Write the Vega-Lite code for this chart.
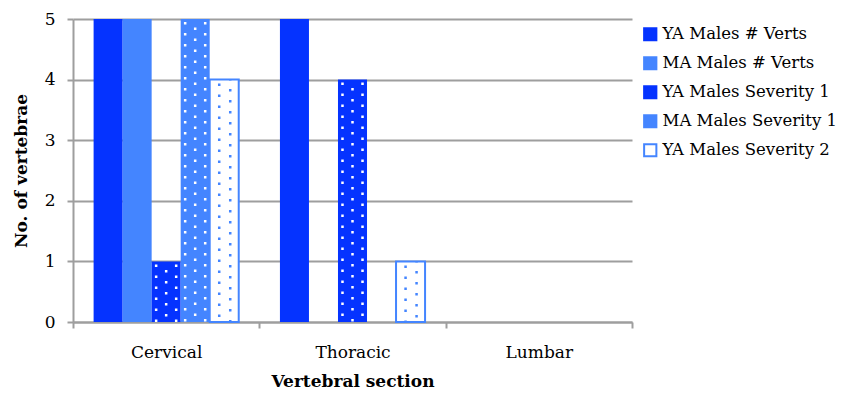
{
  "$schema": "https://vega.github.io/schema/vega-lite/v6.json",
  "width": 559,
  "height": 303,
  "autosize": "none",
  "padding": {"left": 73, "top": 19, "right": 212, "bottom": 72},
  "background": "white",
  "config": {
    "view": {"stroke": null},
    "font": "DejaVu Serif",
    "axis": {"labelFont": "DejaVu Serif", "titleFont": "DejaVu Serif", "labelColor": "#000", "titleColor": "#000"},
    "legend": {"labelFont": "DejaVu Serif"}
  },
  "data": {
    "values": [
      {"section": "Cervical", "series": "YA Males # Verts", "value": 5},
      {"section": "Cervical", "series": "MA Males # Verts", "value": 5},
      {"section": "Cervical", "series": "YA Males Severity 1", "value": 1},
      {"section": "Cervical", "series": "MA Males Severity 1", "value": 5},
      {"section": "Cervical", "series": "YA Males Severity 2", "value": 4},
      {"section": "Thoracic", "series": "YA Males # Verts", "value": 5},
      {"section": "Thoracic", "series": "MA Males # Verts", "value": 0},
      {"section": "Thoracic", "series": "YA Males Severity 1", "value": 4},
      {"section": "Thoracic", "series": "MA Males Severity 1", "value": 0},
      {"section": "Thoracic", "series": "YA Males Severity 2", "value": 1},
      {"section": "Lumbar", "series": "YA Males # Verts", "value": 0},
      {"section": "Lumbar", "series": "MA Males # Verts", "value": 0},
      {"section": "Lumbar", "series": "YA Males Severity 1", "value": 0},
      {"section": "Lumbar", "series": "MA Males Severity 1", "value": 0},
      {"section": "Lumbar", "series": "YA Males Severity 2", "value": 0}
    ]
  },
  "resolve": {"scale": {"xOffset": "independent"}},
  "encoding": {
    "x": {
      "field": "section", "type": "nominal",
      "scale": {"domain": ["Cervical", "Thoracic", "Lumbar"], "paddingInner": 0, "paddingOuter": 0},
      "axis": {
        "title": "Vertebral section", "titleFontSize": 17, "titleFontWeight": "bold", "titlePadding": 13,
        "labelAngle": 0, "labelFontSize": 17, "labelPadding": 16,
        "tickBand": "extent", "tickSize": 6, "tickColor": "#9E9E9E", "tickWidth": 2,
        "domainColor": "#9E9E9E", "domainWidth": 2
      }
    },
    "y": {
      "field": "value", "type": "quantitative",
      "scale": {"domain": [0, 5], "nice": false},
      "axis": {
        "title": "No. of vertebrae", "titleFontSize": 17, "titleFontWeight": "bold", "titlePadding": 14,
        "values": [0, 1, 2, 3, 4, 5], "labelFontSize": 17, "labelPadding": 12, "labelOverlap": false,
        "tickSize": 6, "tickColor": "#9E9E9E", "tickWidth": 2,
        "grid": true, "gridColor": "#9E9E9E", "gridWidth": 2,
        "domainColor": "#9E9E9E", "domainWidth": 2
      }
    }
  },
  "layer": [
    {
      "transform": [{"filter": "datum.value > 0"}],
      "mark": {"type": "bar"},
      "encoding": {
        "xOffset": {
          "field": "series", "type": "nominal",
          "scale": {"domain": ["YA Males # Verts", "MA Males # Verts", "YA Males Severity 1", "MA Males Severity 1", "YA Males Severity 2"], "paddingInner": 0, "paddingOuter": 0.71}
        },
        "fill": {
          "field": "series", "type": "nominal",
          "scale": {
            "domain": ["YA Males # Verts", "MA Males # Verts", "YA Males Severity 1", "MA Males Severity 1", "YA Males Severity 2"],
            "range": ["#0533FF", "#4485FF", "#0533FF", "#4485FF", "#FFFFFF"]
          },
          "legend": {
            "title": null, "orient": "none", "legendX": 569, "legendY": 7,
            "symbolType": "square", "symbolSize": 150, "symbolStrokeWidth": 2, "symbolOpacity": 1,
            "labelFontSize": 16.5, "labelColor": "#000", "labelLimit": 300, "labelOffset": 4,
            "rowPadding": 8
          }
        },
        "stroke": {
          "field": "series", "type": "nominal",
          "scale": {
            "domain": ["YA Males # Verts", "MA Males # Verts", "YA Males Severity 1", "MA Males Severity 1", "YA Males Severity 2"],
            "range": ["#0533FF", "#4485FF", "#0533FF", "#4485FF", "#4485FF"]
          },
          "legend": {
            "title": null, "orient": "none", "legendX": 569, "legendY": 7,
            "symbolType": "square", "symbolSize": 150, "symbolStrokeWidth": 2,
            "labelFontSize": 16.5, "labelColor": "#000", "labelLimit": 300, "labelOffset": 4,
            "rowPadding": 8
          }
        },
        "strokeWidth": {
          "condition": {"test": "datum.series === 'YA Males Severity 2'", "value": 2},
          "value": 0
        }
      }
    },
    {
      "transform": [{"filter": "datum.value > 0 && (datum.series === 'YA Males Severity 1' || datum.series === 'MA Males Severity 1')"}],
      "mark": {"type": "rule", "color": "white", "strokeWidth": 2.5, "strokeDash": [2.5, 8.5], "strokeDashOffset": -3},
      "encoding": {
        "xOffset": {"field": "series", "type": "nominal", "scale": {"domain": ["YA Males # Verts", "MA Males # Verts", "YA Males Severity 1", "MA Males Severity 1", "YA Males Severity 2"], "paddingInner": 0, "paddingOuter": 0.71, "align": 0.257}},
        "y2": {"datum": 0}
      }
    },
    {
      "transform": [{"filter": "datum.value > 0 && (datum.series === 'YA Males Severity 1' || datum.series === 'MA Males Severity 1')"}],
      "mark": {"type": "rule", "color": "white", "strokeWidth": 2.5, "strokeDash": [2.5, 8.5], "strokeDashOffset": -8.5},
      "encoding": {
        "xOffset": {"field": "series", "type": "nominal", "scale": {"domain": ["YA Males # Verts", "MA Males # Verts", "YA Males Severity 1", "MA Males Severity 1", "YA Males Severity 2"], "paddingInner": 0, "paddingOuter": 0.71, "align": 0.5}},
        "y2": {"datum": 0}
      }
    },
    {
      "transform": [{"filter": "datum.value > 0 && (datum.series === 'YA Males Severity 1' || datum.series === 'MA Males Severity 1')"}],
      "mark": {"type": "rule", "color": "white", "strokeWidth": 2.5, "strokeDash": [2.5, 8.5], "strokeDashOffset": -3},
      "encoding": {
        "xOffset": {"field": "series", "type": "nominal", "scale": {"domain": ["YA Males # Verts", "MA Males # Verts", "YA Males Severity 1", "MA Males Severity 1", "YA Males Severity 2"], "paddingInner": 0, "paddingOuter": 0.71, "align": 0.743}},
        "y2": {"datum": 0}
      }
    },
    {
      "transform": [{"filter": "datum.value > 0 && datum.series === 'YA Males Severity 2'"}],
      "mark": {"type": "rule", "color": "#4485FF", "strokeWidth": 2.5, "strokeDash": [2.5, 8.5], "strokeDashOffset": -4},
      "encoding": {
        "xOffset": {"field": "series", "type": "nominal", "scale": {"domain": ["YA Males # Verts", "MA Males # Verts", "YA Males Severity 1", "MA Males Severity 1", "YA Males Severity 2"], "paddingInner": 0, "paddingOuter": 0.71, "align": 0.379}},
        "y2": {"datum": 0}
      }
    },
    {
      "transform": [{"filter": "datum.value > 0 && datum.series === 'YA Males Severity 2'"}],
      "mark": {"type": "rule", "color": "#4485FF", "strokeWidth": 2.5, "strokeDash": [2.5, 8.5], "strokeDashOffset": -9.5},
      "encoding": {
        "xOffset": {"field": "series", "type": "nominal", "scale": {"domain": ["YA Males # Verts", "MA Males # Verts", "YA Males Severity 1", "MA Males Severity 1", "YA Males Severity 2"], "paddingInner": 0, "paddingOuter": 0.71, "align": 0.646}},
        "y2": {"datum": 0}
      }
    }
  ]
}
